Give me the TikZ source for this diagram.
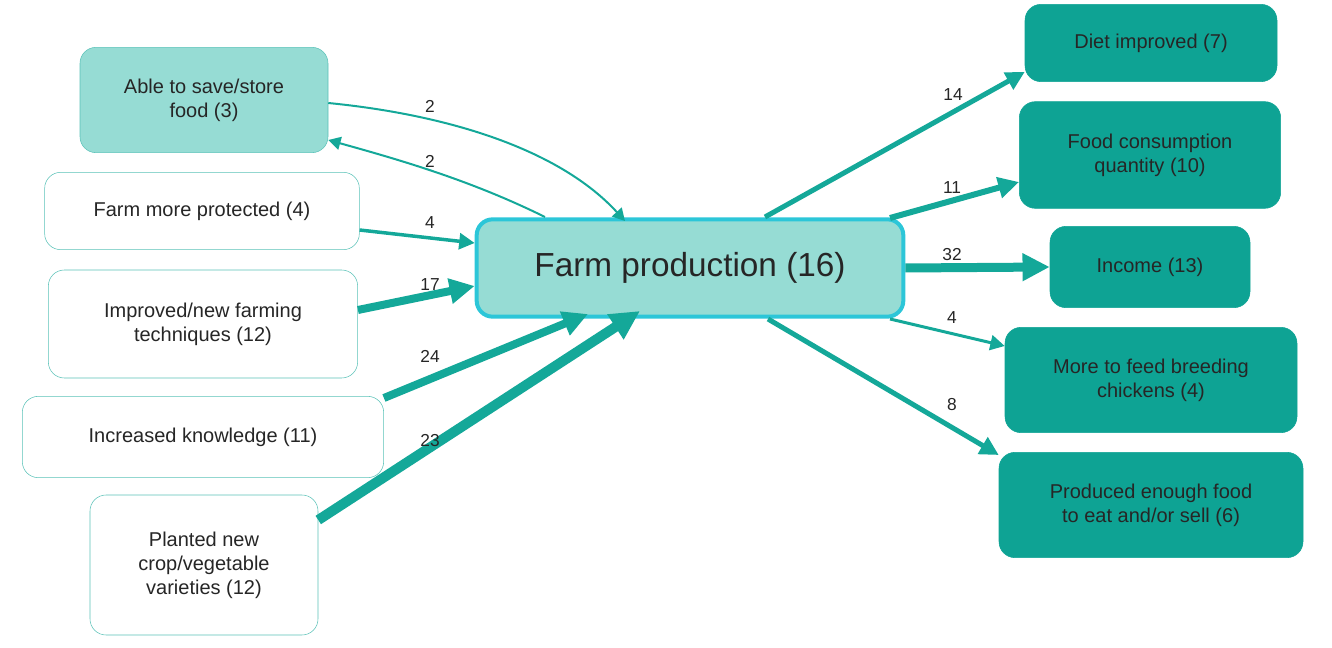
\documentclass[tikz,border=0pt]{standalone}
\usepackage{fontspec}
\setmainfont{Liberation Sans}
\usetikzlibrary{arrows.meta}
\definecolor{lt}{HTML}{96DCD4}
\definecolor{dk}{HTML}{0EA394}
\definecolor{ed}{HTML}{14A899}
\definecolor{cy}{HTML}{2CC6D8}
\begin{document}
\begin{tikzpicture}[x=0.75pt,y=-0.75pt,
 box/.style={draw=ed!70,rounded corners=12pt,align=center,font=\fontsize{15}{18}\selectfont,inner sep=0pt,text=black!85},
 rb/.style={fill=dk,draw=dk,rounded corners=12pt,align=center,font=\fontsize{15}{18}\selectfont,inner sep=0pt,text=black!85},
 ar/.style={draw=ed,-{Triangle[length=#1*1.6pt+6pt,width=#1*1.4pt+7pt]},line width=#1*0.75pt},
 lb/.style={font=\fontsize{13}{15}\selectfont,text=black!85}]
\useasboundingbox (0,0) rectangle (1332,648);
\node[box,fill=lt,minimum width=186pt,minimum height=79pt] (save) at (204,100) {Able to save/store\\food (3)};
\node[box,fill=white,minimum width=236pt,minimum height=58pt] (prot) at (202,211) {Farm more protected (4)};
\node[box,fill=white,minimum width=232pt,minimum height=81pt] (impr) at (203,324) {Improved/new farming\\techniques (12)};
\node[box,fill=white,minimum width=271pt,minimum height=61pt] (know) at (203,437) {Increased knowledge (11)};
\node[box,fill=white,minimum width=171pt,minimum height=105pt] (plant) at (204,565) {Planted new\\crop/vegetable\\varieties (12)};
\node[box,fill=lt,draw=cy,line width=3pt,minimum width=320pt,minimum height=73pt,font=\fontsize{25}{30}\selectfont] (farm) at (690,268) {Farm production (16)};
\node[rb,minimum width=189pt,minimum height=58pt] (diet) at (1151,43) {Diet improved (7)};
\node[rb,minimum width=196pt,minimum height=80pt] (food) at (1150,155) {Food consumption\\quantity (10)};
\node[rb,minimum width=150pt,minimum height=61pt] (inc) at (1150,267) {Income (13)};
\node[rb,minimum width=219pt,minimum height=79pt] (more) at (1151,380) {More to feed breeding\\chickens (4)};
\node[rb,minimum width=228pt,minimum height=79pt] (prod) at (1151,505) {Produced enough food\\to eat and/or sell (6)};
\coordinate (fa) at (625,221); \coordinate (fb) at (545,217);
\draw[ar=2] (save.east|-0,103) .. controls (450,115) and (560,150) .. (fa);
\draw[ar=2] (fb) .. controls (470,180) and (400,160) .. (save.south east|-0,140);
\draw[ar=3.5] (prot.east|-0,230) -- (farm.west|-0,243);
\draw[ar=8] (impr.east|-0,310) -- (farm.west|-0,286);
\draw[ar=8] (know.east|-0,398) -- (588,314);
\draw[ar=10] (plant.east|-0,520) -- (640,311);
\draw[ar=5] (765,217) -- (diet.west|-0,72);
\draw[ar=6] (890,218) -- (food.west|-0,182);
\draw[ar=9] (farm.east) -- (inc.west);
\draw[ar=3] (890,319) -- (more.west|-0,346);
\draw[ar=5] (768,319) -- (prod.west|-0,455);
\node[lb] (l1) at (430,106) {2};
\node[lb] (l2) at (430,161) {2};
\node[lb] (l3) at (430,223) {4};
\node[lb] (l4) at (430,285) {17};
\node[lb] (l5) at (430,356) {24};
\node[lb] (l6) at (430,441) {23};
\node[lb] (r1) at (953,95) {14};
\node[lb] (r2) at (952,188) {11};
\node[lb] (r3) at (952,255) {32};
\node[lb] (r4) at (952,318) {4};
\node[lb] (r5) at (952,405) {8};
\end{tikzpicture}
\end{document}
